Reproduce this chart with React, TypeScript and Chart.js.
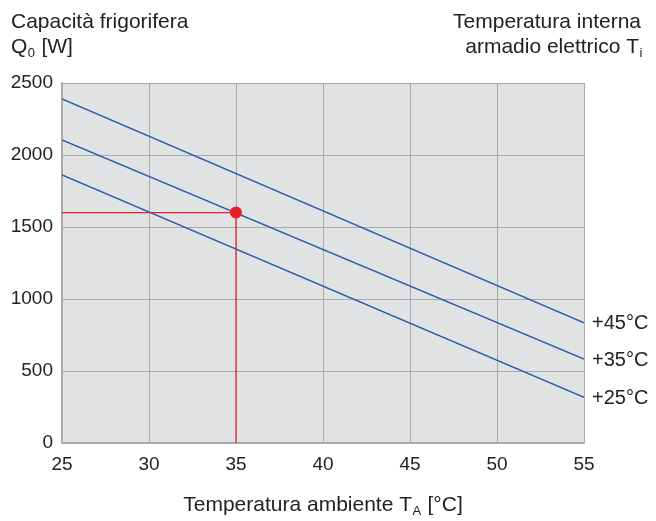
import React, { useEffect, useRef } from "react";
import { Chart, registerables } from "chart.js";

Chart.register(...registerables);

const ambientTemps = [25, 55];
const q45 = [2390, 835];
const q35 = [2105, 583];
const q25 = [1862, 317];
const curveLabels = ["+45°C", "+35°C", "+25°C"];
const opPoint = { x: 35, y: 1600 };
const xTicks = [25, 30, 35, 40, 45, 50, 55];
const yTicks = [0, 500, 1000, 1500, 2000, 2500];

const FONT = "'Liberation Sans', Arial, Helvetica, sans-serif";
const BLUE = "#2f5ea8";
const RED = "#e8202a";
const GRID = "#a9a9a9";
const TEXT = "#222222";
const BIG = 21;
const SUB = 13;

function drawSub(ctx: CanvasRenderingContext2D, main: string, sub: string, x: number, y: number, align: "left" | "right", tail = "") {
  ctx.font = `${BIG}px ${FONT}`;
  const wMain = ctx.measureText(main).width;
  const wTail = ctx.measureText(tail).width;
  ctx.font = `${SUB}px ${FONT}`;
  const wSub = ctx.measureText(sub).width;
  const total = wMain + wSub + 1 + wTail;
  const sx = align === "left" ? x : x - total;
  ctx.textAlign = "left";
  ctx.textBaseline = "alphabetic";
  ctx.font = `${BIG}px ${FONT}`;
  ctx.fillText(main, sx, y);
  ctx.font = `${SUB}px ${FONT}`;
  ctx.fillText(sub, sx + wMain + 0.5, y + 4);
  ctx.font = `${BIG}px ${FONT}`;
  if (tail) ctx.fillText(tail, sx + wMain + wSub + 1, y);
}

const decorPlugin = {
  id: "decor",
  beforeDraw(chart: any) {
    const { ctx, chartArea } = chart;
    ctx.save();
    ctx.fillStyle = "#e1e2e4";
    ctx.fillRect(chartArea.left, chartArea.top, chartArea.right - chartArea.left, chartArea.bottom - chartArea.top);
    ctx.restore();
  },
  afterDraw(chart: any) {
    const { ctx, chartArea, scales } = chart;
    ctx.save();
    ctx.fillStyle = TEXT;
    ctx.font = `${BIG}px ${FONT}`;
    ctx.textAlign = "left";
    ctx.textBaseline = "alphabetic";
    ctx.fillText("Capacità frigorifera", 11, 28);
    drawSub(ctx, "Q", "0", 11, 53, "left", " [W]");
    ctx.font = `${BIG}px ${FONT}`;
    ctx.textAlign = "right";
    ctx.fillText("Temperatura interna", 641, 28);
    drawSub(ctx, "armadio elettrico T", "i", 643, 53, "right");

    // curve labels
    const ends = [q45[1], q35[1], q25[1]];
    ctx.textAlign = "left";
    ctx.textBaseline = "middle";
    ctx.font = `20px ${FONT}`;
    ends.forEach((v, i) => {
      const y = scales.y.getPixelForValue(v);
      ctx.fillText(curveLabels[i], chartArea.right + 8, y + 1);
    });

    // x axis title
    ctx.textBaseline = "alphabetic";
    ctx.font = `${BIG}px ${FONT}`;
    const t1 = "Temperatura ambiente T";
    const t2 = " [°C]";
    const w1 = ctx.measureText(t1).width;
    const w2 = ctx.measureText(t2).width;
    ctx.font = `${SUB}px ${FONT}`;
    const wA = ctx.measureText("A").width;
    const total = w1 + wA + 1 + w2;
    const cx = (chartArea.left + chartArea.right) / 2;
    const sx = cx - total / 2;
    ctx.textAlign = "left";
    ctx.font = `${BIG}px ${FONT}`;
    ctx.fillText(t1, sx, 511);
    ctx.font = `${SUB}px ${FONT}`;
    ctx.fillText("A", sx + w1 + 0.5, 515);
    ctx.font = `${BIG}px ${FONT}`;
    ctx.fillText(t2, sx + w1 + wA + 1, 511);
    ctx.restore();
  },
};

export default function App() {
  const ref = useRef<HTMLCanvasElement>(null);
  useEffect(() => {
    if (!ref.current) return;
    const mk = (vals: number[]) => ambientTemps.map((x, i) => ({ x, y: vals[i] }));
    const chart = new Chart(ref.current, {
      type: "scatter",
      data: {
        datasets: [
          { data: [{ x: ambientTemps[0], y: opPoint.y }, { x: opPoint.x, y: opPoint.y }, { x: opPoint.x, y: 0 }], showLine: true, borderColor: RED, borderWidth: 1.2, pointRadius: 0, order: 2 },
          { data: mk(q45), showLine: true, borderColor: BLUE, borderWidth: 1.5, pointRadius: 0, order: 1 },
          { data: mk(q35), showLine: true, borderColor: BLUE, borderWidth: 1.5, pointRadius: 0, order: 1 },
          { data: mk(q25), showLine: true, borderColor: BLUE, borderWidth: 1.5, pointRadius: 0, order: 1 },
          { data: [opPoint], showLine: false, pointRadius: 6, backgroundColor: RED, borderColor: RED, borderWidth: 0, order: 0 },
        ],
      },
      options: {
        animation: false,
        responsive: false,
        events: [],
        layout: { padding: { left: 0, top: 83, right: 72, bottom: 0 } },
        plugins: { legend: { display: false }, tooltip: { enabled: false } },
        scales: {
          x: {
            type: "linear",
            min: xTicks[0],
            max: xTicks[xTicks.length - 1],
            afterBuildTicks: (s: any) => { s.ticks = xTicks.map((v) => ({ value: v })); },
            afterFit: (s: any) => { s.height = 78; },
            grid: { color: GRID, lineWidth: 1, drawTicks: false },
            border: { color: GRID, width: 1.5 },
            ticks: { color: TEXT, font: { family: FONT, size: 19 }, padding: 10, maxRotation: 0, callback: (v: any) => String(v) },
          },
          y: {
            type: "linear",
            min: yTicks[0],
            max: yTicks[yTicks.length - 1],
            afterBuildTicks: (s: any) => { s.ticks = yTicks.map((v) => ({ value: v })); },
            afterFit: (s: any) => { s.width = 62; },
            grid: { color: GRID, lineWidth: 1, drawTicks: false },
            border: { color: GRID, width: 1.5 },
            ticks: { color: TEXT, font: { family: FONT, size: 19 }, padding: 9, callback: (v: any) => String(v) },
          },
        },
      },
      plugins: [decorPlugin],
    });
    return () => chart.destroy();
  }, []);
  return (
    <div style={{ position: "fixed", left: 0, top: 0, width: 656, height: 521, background: "#fff" }}>
      <canvas ref={ref} width={656} height={521} style={{ width: 656, height: 521, display: "block" }} />
    </div>
  );
}
